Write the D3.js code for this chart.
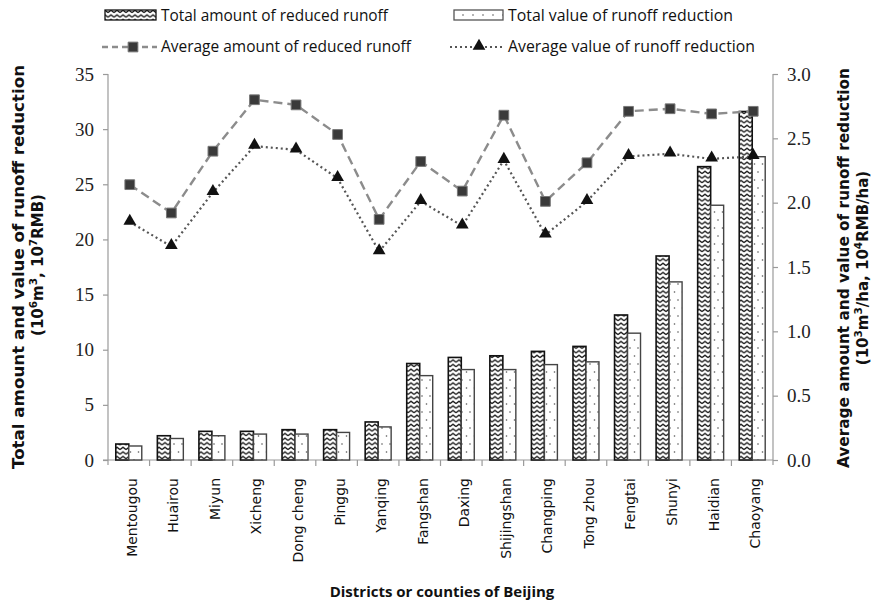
<!DOCTYPE html>
<html>
<head>
<meta charset="utf-8">
<script src="https://cdn.jsdelivr.net/npm/d3@7"></script>
<style>
  html, body { margin: 0; padding: 0; background: #fff; }
  svg { display: block; }
</style>
</head>
<body>
<svg id="chart" width="878" height="606"></svg>
<script>
// Districts of Beijing and the four runoff-reduction series
const districts = ["Mentougou", "Huairou", "Miyun", "Xicheng", "Dong cheng", "Pinggu", "Yanqing",
  "Fangshan", "Daxing", "Shijingshan", "Changping", "Tong zhou", "Fengtai", "Shunyi", "Haidian", "Chaoyang"];
// Total amount of reduced runoff (10^6 m3)
const totalAmount = [1.45, 2.2, 2.6, 2.6, 2.75, 2.75, 3.45, 8.75, 9.3, 9.45, 9.85, 10.3, 13.15, 18.5, 26.6, 31.6];
// Total value of runoff reduction (10^7 RMB)
const totalValue = [1.27, 1.95, 2.2, 2.35, 2.35, 2.5, 3.0, 7.65, 8.2, 8.2, 8.65, 8.9, 11.5, 16.15, 23.1, 27.5];
// Average amount of reduced runoff (10^3 m3/ha)
const avgAmount = [2.14, 1.92, 2.40, 2.80, 2.76, 2.53, 1.87, 2.32, 2.09, 2.68, 2.01, 2.31, 2.71, 2.73, 2.69, 2.71];
// Average value of runoff reduction (10^4 RMB/ha)
const avgValue = [1.85, 1.66, 2.08, 2.44, 2.41, 2.19, 1.62, 2.01, 1.82, 2.33, 1.75, 2.01, 2.36, 2.38, 2.34, 2.36];

const leftTicks = [0, 5, 10, 15, 20, 25, 30, 35];
const rightTicks = [0, 0.5, 1.0, 1.5, 2.0, 2.5, 3.0];

const svg = d3.select("#chart");
const plot = { left: 108, right: 773, top: 74, bottom: 460 };

const x = d3.scaleBand().domain(districts).range([plot.left, plot.right]);
const sub = d3.scaleBand().domain(["amount", "value"]).range([0, x.bandwidth()])
  .paddingInner(0).paddingOuter(0.6);
const yL = d3.scaleLinear().domain([0, 35]).range([plot.bottom, plot.top]);
const yR = d3.scaleLinear().domain([0, 3]).range([plot.bottom, plot.top]);

// fill patterns
const defs = svg.append("defs");
const zig = defs.append("pattern").attr("id", "zigzag").attr("patternUnits", "userSpaceOnUse")
  .attr("width", 6).attr("height", 4.6);
zig.append("rect").attr("width", 6).attr("height", 4.6).attr("fill", "#fff");
zig.append("path").attr("d", "M0,3.4 L3,1 L6,3.4").attr("fill", "none")
  .attr("stroke", "#1a1a1a").attr("stroke-width", 1.3);
const dots = defs.append("pattern").attr("id", "dots").attr("patternUnits", "userSpaceOnUse")
  .attr("width", 8).attr("height", 16);
dots.append("rect").attr("width", 8).attr("height", 16).attr("fill", "#fff");
dots.append("circle").attr("cx", 2.5).attr("cy", 4).attr("r", 0.8).attr("fill", "#555");
dots.append("circle").attr("cx", 6).attr("cy", 12).attr("r", 0.8).attr("fill", "#555");
const dotsRow = defs.append("pattern").attr("id", "dotsRow").attr("patternUnits", "userSpaceOnUse")
  .attr("width", 10).attr("height", 10).attr("x", 458).attr("y", 10);
dotsRow.append("rect").attr("width", 10).attr("height", 10).attr("fill", "#fff");
dotsRow.append("circle").attr("cx", 5).attr("cy", 5).attr("r", 0.8).attr("fill", "#555");

const axisColor = "#9a9a9a";
const serif = "'Liberation Serif', 'Times New Roman', serif";
const sans = "'DejaVu Sans', Verdana, sans-serif";
const legendFont = "'Open Sans', sans-serif";

// left axis
const gL = svg.append("g").attr("transform", `translate(${plot.left},0)`)
  .call(d3.axisLeft(yL).tickValues(leftTicks).tickSize(5).tickPadding(9));
gL.selectAll("path, line").attr("stroke", axisColor).attr("stroke-width", 1.2);
gL.select(".domain").attr("d", `M0,${plot.top}V${plot.bottom + 5}`);
gL.selectAll("text").attr("font-family", serif).attr("font-size", 19).attr("fill", "#222");

// right axis
const gR = svg.append("g").attr("transform", `translate(${plot.right},0)`)
  .call(d3.axisRight(yR).tickValues(rightTicks).tickFormat(d3.format(".1f")).tickSize(5).tickPadding(9));
gR.selectAll("path, line").attr("stroke", axisColor).attr("stroke-width", 1.2);
gR.select(".domain").attr("d", `M0,${plot.top}V${plot.bottom + 5}`);
gR.selectAll("text").attr("font-family", serif).attr("font-size", 19).attr("fill", "#222");

// bottom axis: ticks at the band boundaries
const bottom = svg.append("g");
bottom.append("line").attr("x1", plot.left - 5).attr("x2", plot.right)
  .attr("y1", plot.bottom).attr("y2", plot.bottom).attr("stroke", axisColor).attr("stroke-width", 1.2);
bottom.selectAll("line.tick").data(districts.slice(1)).join("line").attr("class", "tick")
  .attr("x1", d => x(d)).attr("x2", d => x(d))
  .attr("y1", plot.bottom).attr("y2", plot.bottom + 6)
  .attr("stroke", axisColor).attr("stroke-width", 1.2);
bottom.selectAll("text").data(districts).join("text")
  .attr("transform", d => `translate(${x(d) + x.bandwidth() / 2 + 3},${plot.bottom + 18}) rotate(-90)`)
  .attr("dy", "0.35em").attr("text-anchor", "end")
  .attr("font-family", sans).attr("font-size", 14).attr("fill", "#111")
  .text(d => d);

// bars
const bars = svg.append("g");
bars.selectAll("rect.amount").data(districts).join("rect").attr("class", "amount")
  .attr("x", d => x(d) + sub("amount"))
  .attr("y", (d, i) => yL(totalAmount[i]))
  .attr("width", sub.bandwidth())
  .attr("height", (d, i) => yL(0) - yL(totalAmount[i]))
  .attr("fill", "url(#zigzag)").attr("stroke", "#111").attr("stroke-width", 1.6);
bars.selectAll("rect.value").data(districts).join("rect").attr("class", "value")
  .attr("x", d => x(d) + sub("value"))
  .attr("y", (d, i) => yL(totalValue[i]))
  .attr("width", sub.bandwidth())
  .attr("height", (d, i) => yL(0) - yL(totalValue[i]))
  .attr("fill", "url(#dots)").attr("stroke", "#444").attr("stroke-width", 1.4);

// average lines on the right axis
const cx = d => x(d) + x.bandwidth() / 2 + 1;
const lineA = d3.line().x((d, i) => cx(districts[i])).y(d => yR(d));
svg.append("path").datum(avgAmount).attr("d", lineA)
  .attr("fill", "none").attr("stroke", "#8c8c8c").attr("stroke-width", 2.4)
  .attr("stroke-dasharray", "9,5");
svg.append("path").datum(avgValue).attr("d", lineA)
  .attr("fill", "none").attr("stroke", "#555").attr("stroke-width", 2.2)
  .attr("stroke-dasharray", "2,3");

const sq = d3.symbol().type(d3.symbolSquare).size(95);
const tri = d3.symbol().type(d3.symbolTriangle).size(70);
svg.append("g").selectAll("path").data(avgAmount).join("path")
  .attr("transform", (d, i) => `translate(${cx(districts[i])},${yR(d)})`)
  .attr("d", sq).attr("fill", "#3a3a3a").attr("stroke", "#777").attr("stroke-width", 1);
svg.append("g").selectAll("path").data(avgValue).join("path")
  .attr("transform", (d, i) => `translate(${cx(districts[i])},${yR(d) - 1})`)
  .attr("d", tri).attr("fill", "#111");

// axis titles
function title(sel, parts) {
  parts.forEach(p => {
    const t = sel.append("tspan").text(p.t);
    if (p.sup) t.attr("baseline-shift", "super").attr("font-size", "70%");
  });
}
svg.append("text").attr("transform", "translate(24,267) rotate(-90)")
  .attr("text-anchor", "middle").attr("font-family", sans).attr("font-weight", "bold")
  .attr("font-size", 15).attr("fill", "#111")
  .attr("textLength", 404).attr("lengthAdjust", "spacingAndGlyphs")
  .text("Total amount and value of runoff reduction");
const lt2 = svg.append("text").attr("transform", "translate(43,265) rotate(-90)")
  .attr("text-anchor", "middle").attr("font-family", sans).attr("font-weight", "bold")
  .attr("font-size", 15).attr("fill", "#111");
title(lt2, [{ t: "(10" }, { t: "6", sup: 1 }, { t: "m" }, { t: "3", sup: 1 }, { t: ", 10" }, { t: "7", sup: 1 }, { t: "RMB)" }]);

svg.append("text").attr("transform", "translate(849,268) rotate(-90)")
  .attr("text-anchor", "middle").attr("font-family", sans).attr("font-weight", "bold")
  .attr("font-size", 15).attr("fill", "#111")
  .attr("textLength", 400).attr("lengthAdjust", "spacingAndGlyphs")
  .text("Average amount and value of runoff reduction");
const rt2 = svg.append("text").attr("transform", "translate(868,268) rotate(-90)")
  .attr("text-anchor", "middle").attr("font-family", sans).attr("font-weight", "bold")
  .attr("font-size", 15).attr("fill", "#111");
title(rt2, [{ t: "(10" }, { t: "3", sup: 1 }, { t: "m" }, { t: "3", sup: 1 }, { t: "/ha, 10" }, { t: "4", sup: 1 }, { t: "RMB/ha)" }]);

svg.append("text").attr("x", 442).attr("y", 597).attr("text-anchor", "middle")
  .attr("font-family", legendFont).attr("font-weight", "bold")
  .attr("font-size", 15).attr("fill", "#111")
  .text("Districts or counties of Beijing");

// legend: two rows, two columns
const legend = svg.append("g").attr("font-family", legendFont).attr("font-size", 17).attr("fill", "#111");
function legendText(xp, yp, str, len) {
  legend.append("text").attr("x", xp).attr("y", yp)
    .attr("textLength", len).attr("lengthAdjust", "spacingAndGlyphs").text(str);
}
legend.append("rect").attr("x", 105).attr("y", 10).attr("width", 51).attr("height", 10)
  .attr("fill", "url(#zigzag)").attr("stroke", "#111").attr("stroke-width", 1.3);
legendText(161, 21, "Total amount of reduced runoff", 227);
legend.append("rect").attr("x", 454).attr("y", 10).attr("width", 49).attr("height", 10)
  .attr("fill", "url(#dotsRow)").attr("stroke", "#555").attr("stroke-width", 1.3);
legendText(508, 21, "Total value of runoff reduction", 225);

legend.append("line").attr("x1", 102).attr("x2", 157).attr("y1", 47).attr("y2", 47)
  .attr("stroke", "#8c8c8c").attr("stroke-width", 2.4).attr("stroke-dasharray", "6,4");
legend.append("path").attr("transform", "translate(133,47)").attr("d", sq)
  .attr("fill", "#3a3a3a").attr("stroke", "#777");
legendText(161, 52, "Average amount of reduced runoff", 250);
legend.append("line").attr("x1", 450).attr("x2", 503).attr("y1", 47).attr("y2", 47)
  .attr("stroke", "#555").attr("stroke-width", 2).attr("stroke-dasharray", "2,3");
legend.append("path").attr("transform", "translate(479,46)").attr("d", tri).attr("fill", "#111");
legendText(508, 52, "Average value of runoff reduction", 247);
</script>
</body>
</html>
